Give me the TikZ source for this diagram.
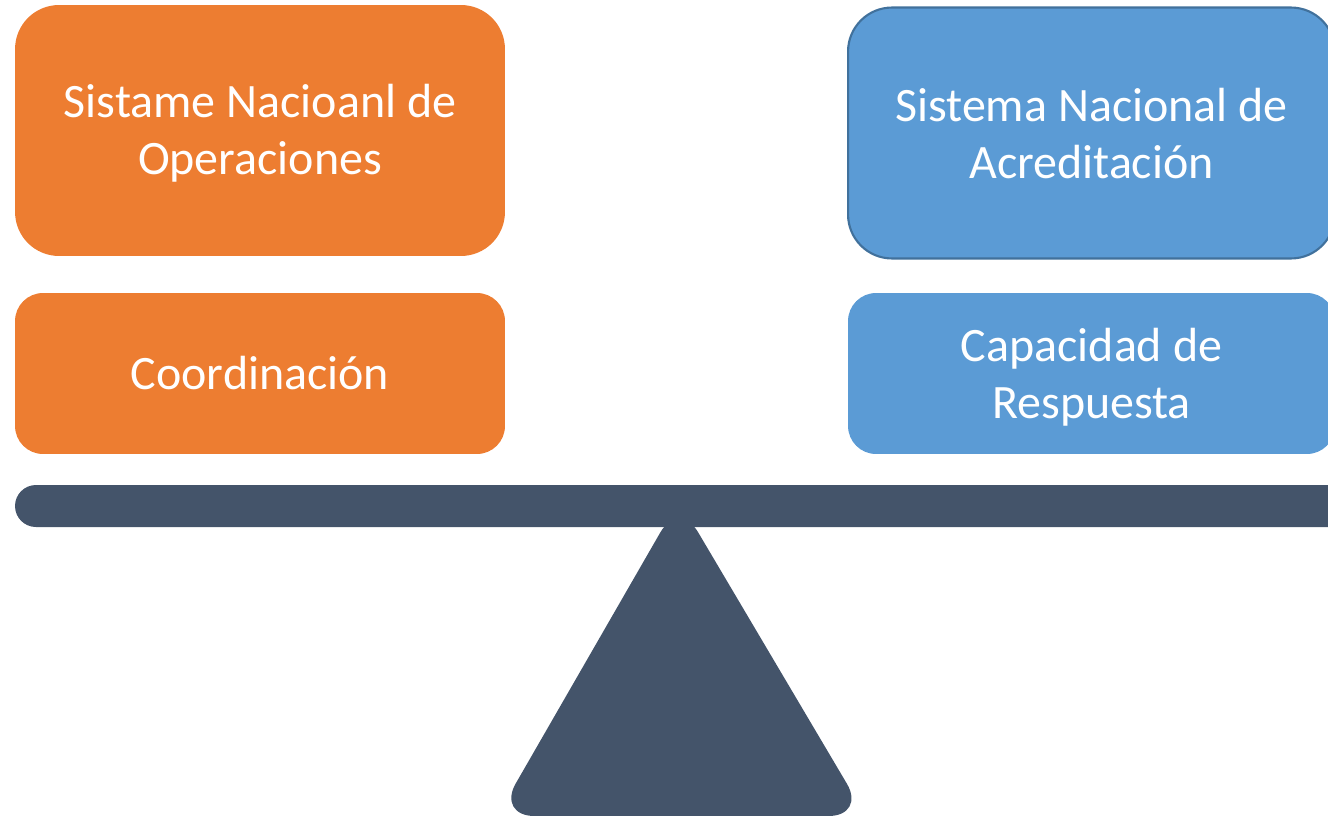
\documentclass[tikz,border=0pt]{standalone}
\usepackage{fontspec}
\setmainfont{Carlito}
\definecolor{naranja}{HTML}{ED7D31}
\definecolor{azul}{HTML}{5B9BD5}
\definecolor{azulborde}{HTML}{41719C}
\definecolor{pizarra}{HTML}{44546A}
\begin{document}
\begin{tikzpicture}[x=0.02cm,y=-0.02cm,
  caja/.style={rectangle,text=white,align=center,inner sep=0pt,
    font=\fontsize{27.3pt}{32.5pt}\selectfont},
  alta/.style={caja,minimum height=5.02cm,rounded corners=0.88cm},
  baja/.style={caja,minimum height=3.22cm,rounded corners=0.56cm}]

\useasboundingbox (0,0) rectangle (1328,815);
\clip (0,0) rectangle (1328,815);

\def\anchoizq{9.8cm}
\def\anchoder{9.74cm}

\node[alta,fill=naranja,minimum width=\anchoizq,text height=1.98cm,text depth=0.2cm] (son) at (260,130.5) {Sistame Nacioanl de\\Operaciones};
\node[baja,fill=naranja,minimum width=\anchoizq] (coord) at (260,373.5) {Coordinación};
\node[alta,fill=azul,draw=azulborde,line width=1.2pt,minimum width=\anchoder,text height=2.04cm,text depth=0.2cm] (sna) at (1091.5,133) {Sistema Nacional de\\Acreditación};
\node[baja,fill=azul,minimum width=\anchoder,text height=2.02cm,text depth=0.2cm] (resp) at (1091.5,373.5) {Capacidad de\\Respuesta};

% balanza
\fill[pizarra,rounded corners=0.75cm] (679,500) -- (866,816) -- (497,816) -- cycle;
\fill[pizarra,rounded corners=0.42cm] (15,485) rectangle (1360,527);
\end{tikzpicture}
\end{document}
